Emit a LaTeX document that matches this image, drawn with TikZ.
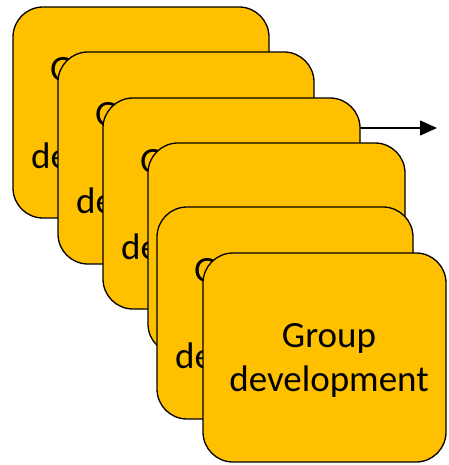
\documentclass[tikz,border=0pt]{standalone}
\usepackage{fontspec}
\setmainfont{Carlito}
\usetikzlibrary{arrows.meta,calc}
\definecolor{gold}{HTML}{FFC000}
\tikzset{
  gbox/.style={draw=black, line width=1.3pt, fill=gold, rounded corners=30pt, anchor=north west, inner sep=0pt, outer sep=0pt},
  txt/.style={inner sep=0pt, font=\fontsize{37}{44}\selectfont},
  arr/.style={line width=1.4pt, -{Triangle[length=17pt,width=15pt]}}
}
\begin{document}
\begin{tikzpicture}[x=1pt,y=-1pt]
\useasboundingbox (0,0) rectangle (448,465);
% box 1
\node[gbox, minimum width=256pt, minimum height=211pt] (b1) at (13,7) {};
\node[txt, anchor=base west] (g1) at ($(b1.north west)+(37,75)$) {Group};
\node[txt, anchor=base west] (d1) at ($(b1.north west)+(18,161)$) {development};
% box 2
\node[gbox, minimum width=256pt, minimum height=212pt] (b2) at (58,52) {};
\node[txt, anchor=base west] (g2) at ($(b2.north west)+(37,75)$) {Group};
\node[txt, anchor=base west] (d2) at ($(b2.north west)+(18,161)$) {development};
% box 3
\node[gbox, minimum width=257pt, minimum height=211pt] (b3) at (103,98) {};
\node[txt, anchor=base west] (g3) at ($(b3.north west)+(37,75)$) {Group};
\node[txt, anchor=base west] (d3) at ($(b3.north west)+(18,161)$) {development};
% box 4
\node[gbox, minimum width=257pt, minimum height=211pt] (b4) at (148,143) {};
\node[txt, anchor=base west] (g4) at ($(b4.north west)+(37,100)$) {Group};
\node[txt, anchor=base west] (d4) at ($(b4.north west)+(18,186)$) {development};
% box 5
\node[gbox, minimum width=256pt, minimum height=212pt] (b5) at (157,207) {};
\node[txt, anchor=base west] (g5) at ($(b5.north west)+(37,75)$) {Group};
\node[txt, anchor=base west] (d5) at ($(b5.north west)+(18,161)$) {development};
% box 6
\node[gbox, minimum width=243pt, minimum height=209pt] (b6) at (203,253) {};
\node[txt, align=center, anchor=base] (t6) at (329,391) {Group\\development};
% arrow
\coordinate (arrowend) at (437,128);
\draw[arr] (b3.east |- arrowend) -- (arrowend);
\end{tikzpicture}
\end{document}
